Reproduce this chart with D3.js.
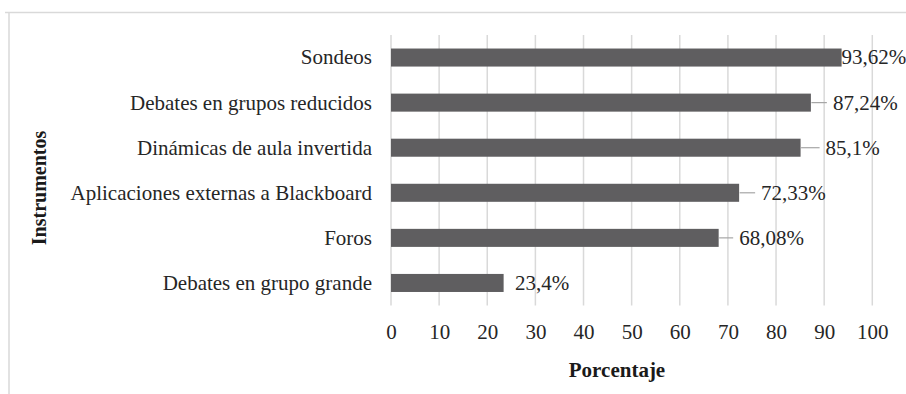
<!DOCTYPE html>
<html>
<head>
<meta charset="utf-8">
<script src="https://cdn.jsdelivr.net/npm/d3@7"></script>
<style>
  html, body { margin: 0; padding: 0; background: #fff; }
  svg { display: block; }
</style>
</head>
<body>
<svg id="chart" width="906" height="394"></svg>
<script>
// ---- data ----
const categories = [
  "Sondeos",
  "Debates en grupos reducidos",
  "Dinámicas de aula invertida",
  "Aplicaciones externas a Blackboard",
  "Foros",
  "Debates en grupo grande"
];
const values = [93.62, 87.24, 85.1, 72.33, 68.08, 23.4];
const valueLabels = ["93,62%", "87,24%", "85,1%", "72,33%", "68,08%", "23,4%"];
const xTicks = [0, 10, 20, 30, 40, 50, 60, 70, 80, 90, 100];
const xTitle = "Porcentaje";
const yTitle = "Instrumentos";

// ---- layout (pixels, not data) ----
const labelGap = [0, 22, 25, 22, 20.5, 11.5];   // text start offset from bar end
const leaderOn = [false, true, true, true, true, false];
const FONT = '"Liberation Serif", "Times New Roman", serif';
const TXT = "#262626";

const svg = d3.select("#chart");
const plot = { left: 391, right: 872.3, top: 35, bottom: 305.5 };

// frame
svg.append("line").attr("x1", 5).attr("x2", 906).attr("y1", 12.5).attr("y2", 12.5)
  .attr("stroke", "#d9d9d9").attr("stroke-width", 1.5);
svg.append("line").attr("x1", 9).attr("x2", 9).attr("y1", 12.5).attr("y2", 394)
  .attr("stroke", "#d9d9d9").attr("stroke-width", 1.5);

const x = d3.scaleLinear().domain([0, 100]).range([plot.left, plot.right]);
const y = d3.scaleBand().domain(categories).range([plot.top, plot.bottom]).paddingInner(0.6).paddingOuter(0.3);

// gridlines
svg.append("g").selectAll("line").data(xTicks).join("line")
  .attr("x1", d => x(d)).attr("x2", d => x(d))
  .attr("y1", plot.top).attr("y2", plot.bottom)
  .attr("stroke", "#d9d9d9").attr("stroke-width", 1.5);

// x axis tick labels
const xAxis = d3.axisBottom(x).tickValues(xTicks).tickSize(0).tickPadding(0).tickFormat(d3.format("d"));
const gx = svg.append("g").attr("transform", `translate(0, ${plot.bottom})`).call(xAxis);
gx.select(".domain").remove();
gx.selectAll("text").attr("font-size", 21).attr("dy", null).attr("y", 33)
  .style("font-family", FONT).attr("fill", TXT);

// y axis category labels
const yAxis = d3.axisLeft(y).tickSize(0).tickPadding(19);
const gy = svg.append("g").attr("transform", `translate(${plot.left}, 0)`).call(yAxis);
gy.select(".domain").remove();
gy.selectAll("text").attr("font-size", 21).attr("dy", "0.33em")
  .style("font-family", FONT).attr("fill", TXT);

// bars
svg.append("g").selectAll("rect").data(values).join("rect")
  .attr("x", x(0))
  .attr("y", (d, i) => y(categories[i]))
  .attr("width", d => x(d) - x(0))
  .attr("height", y.bandwidth())
  .attr("fill", "#5f5e60");

// leader lines
const leaders = values.map((v, i) => ({ v, i })).filter(o => leaderOn[o.i]);
svg.append("g").selectAll("line").data(leaders).join("line")
  .attr("x1", o => x(o.v) + 0.5)
  .attr("x2", o => x(o.v) + labelGap[o.i] - 6)
  .attr("y1", o => y(categories[o.i]) + y.bandwidth() / 2)
  .attr("y2", o => y(categories[o.i]) + y.bandwidth() / 2)
  .attr("stroke", "#a6a6a6").attr("stroke-width", 1.2);

// value labels
svg.append("g").selectAll("text").data(values).join("text")
  .attr("x", (d, i) => x(d) + labelGap[i])
  .attr("y", (d, i) => y(categories[i]) + y.bandwidth() / 2)
  .attr("dy", "0.33em")
  .attr("font-size", 21)
  .style("font-family", FONT).attr("fill", TXT)
  .text((d, i) => valueLabels[i]);

// axis titles
svg.append("text").attr("x", 617).attr("y", 377)
  .attr("text-anchor", "middle").attr("font-size", 21).attr("font-weight", "bold")
  .style("font-family", FONT).attr("fill", "#1a1a1a").text(xTitle);
svg.append("text").attr("transform", `translate(46, 188) rotate(-90)`)
  .attr("text-anchor", "middle").attr("font-size", 20).attr("font-weight", "bold")
  .style("font-family", FONT).attr("fill", "#1a1a1a").text(yTitle);
</script>
</body>
</html>
